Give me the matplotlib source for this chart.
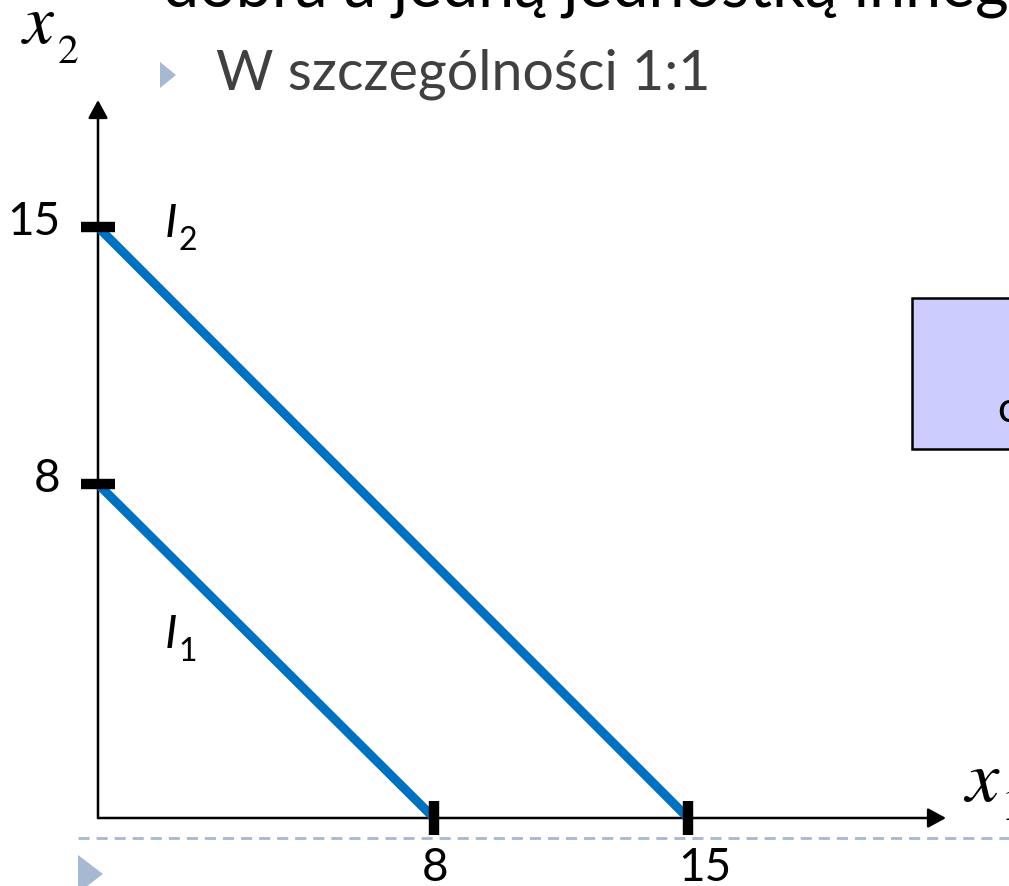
import numpy as np
import matplotlib.pyplot as plt
from matplotlib.patches import Rectangle, Polygon

# intercepts of the two indifference lines (x1 + x2 = k)
curve_names = ["1", "2"]
intercepts = [8, 15]
tick_values = [8, 15]

W, H = 1009, 886
ORIGIN = (98, 818)   # pixel position of (0, 0)
UNIT = 42.0          # pixels per drawn unit

BLUE = "#0070C0"
BULLET = "#A6B9D0"
TEXT_GREY = "#404040"

plt.rcParams["font.family"] = ["Lato", "DejaVu Sans"]


def px(x, y):
    # pixel position -> axes fraction
    return x / W, 1 - y / H


# schematic axes: the gap 8..15 is drawn a bit shorter than 0..8
x_knots = [-100, 0, 8, 15, 100]
x_pos = [-100, 0, 8, 14.05, 99.05]
y_knots = [-100, 0, 8, 15, 100]
y_pos = [-100, 0, 7.95, 14.07, 99.07]


def fwd_x(v):
    return np.interp(v, x_knots, x_pos)


def inv_x(p):
    return np.interp(p, x_pos, x_knots)


def fwd_y(v):
    return np.interp(v, y_knots, y_pos)


def inv_y(p):
    return np.interp(p, y_pos, y_knots)


fig = plt.figure(figsize=(W / 100, H / 100), dpi=100)
ax = fig.add_axes([0, 0, 1, 1])
ax.set_xscale("function", functions=(fwd_x, inv_x))
ax.set_yscale("function", functions=(fwd_y, inv_y))
ax.set_xlim(inv_x(-ORIGIN[0] / UNIT), inv_x((W - ORIGIN[0]) / UNIT))
ax.set_ylim(inv_y((ORIGIN[1] - H) / UNIT), inv_y(ORIGIN[1] / UNIT))
ax.axis("off")

# slide text above the chart
ax.text(*px(163, 6), "dobra a jedną jednostką innego", transform=ax.transAxes,
        fontsize=46.5, color="black", ha="left", va="baseline")
ax.add_patch(Polygon([px(160, 62), px(160, 88), px(176, 75)], closed=True,
                     transform=ax.transAxes, color=BULLET, lw=0))
ax.text(*px(216, 90), "W szczególności 1:1", transform=ax.transAxes,
        fontsize=40, color=TEXT_GREY, ha="left", va="baseline")

# coordinate axes with arrow heads
arrow = dict(arrowstyle="-|>,head_length=1.1,head_width=0.6", color="black",
             lw=1.8, shrinkA=0, shrinkB=0, mutation_scale=10)
ax.annotate("", xy=px(98, 100), xytext=px(*ORIGIN), xycoords=ax.transAxes,
            textcoords=ax.transAxes, arrowprops=arrow)
ax.annotate("", xy=px(946, 818), xytext=px(*ORIGIN), xycoords=ax.transAxes,
            textcoords=ax.transAxes, arrowprops=arrow)

# indifference lines
for k in intercepts:
    ax.plot([0, k], [k, 0], color=BLUE, lw=6.5, solid_capstyle="butt", zorder=3)

# thick tick marks
ax.plot(np.zeros(len(tick_values)), tick_values, ls="none", marker="_",
        ms=23.8, mew=7.5, color="black", zorder=4)
ax.plot(tick_values, np.zeros(len(tick_values)), ls="none", marker="|",
        ms=23.8, mew=7.5, color="black", zorder=4)

# tick labels
for v in tick_values:
    ax.annotate(str(v), xy=(0, v), xytext=(-38, -8), textcoords="offset pixels",
                fontsize=33, ha="right", va="baseline")
x_shift = {8: 1, 15: 17}
for v in tick_values:
    ax.annotate(str(v), xy=(v, 0), xytext=(x_shift[v], -63),
                textcoords="offset pixels", fontsize=33, ha="center",
                va="baseline")

# curve names I1, I2
label_at = {"1": (165, 648), "2": (165, 237)}
for name in curve_names:
    lx, ly = label_at[name]
    ax.text(*px(lx, ly), "I", transform=ax.transAxes, fontsize=34,
            style="italic", ha="left", va="baseline")
    ax.text(*px(lx + 13, ly + 13), name, transform=ax.transAxes, fontsize=23,
            ha="left", va="baseline")

# axis names x1, x2
ax.text(*px(23, 43), "x", transform=ax.transAxes, family="STIXGeneral",
        style="italic", fontsize=50, ha="left", va="baseline")
ax.text(*px(58, 63), "2", transform=ax.transAxes, family="STIXGeneral",
        fontsize=30, ha="left", va="baseline")
ax.text(*px(965, 802), "x", transform=ax.transAxes, family="STIXGeneral",
        style="italic", fontsize=54, ha="left", va="baseline")
ax.text(*px(1001, 820), "1", transform=ax.transAxes, family="STIXGeneral",
        fontsize=33, ha="left", va="baseline")

# side box, running off the right edge
bx, by = px(912, 449)
ax.add_patch(Rectangle((bx, by), 0.2, (449 - 298) / H, transform=ax.transAxes,
                       facecolor="#CCCCFF", edgecolor="black", lw=1.8,
                       clip_on=False))
ax.text(*px(997, 422), "c", transform=ax.transAxes, fontsize=31,
        ha="left", va="baseline")

# dashed separator and bottom bullet
ax.plot([78 / W, 1], [1 - 838 / H] * 2, transform=ax.transAxes, color=BULLET,
        lw=2, ls=(0, (4, 2.5)))
ax.add_patch(Polygon([px(78, 855), px(78, 893), px(103, 874)], closed=True,
                     transform=ax.transAxes, color=BULLET, lw=0))

fig.savefig("out.png", dpi=100)
